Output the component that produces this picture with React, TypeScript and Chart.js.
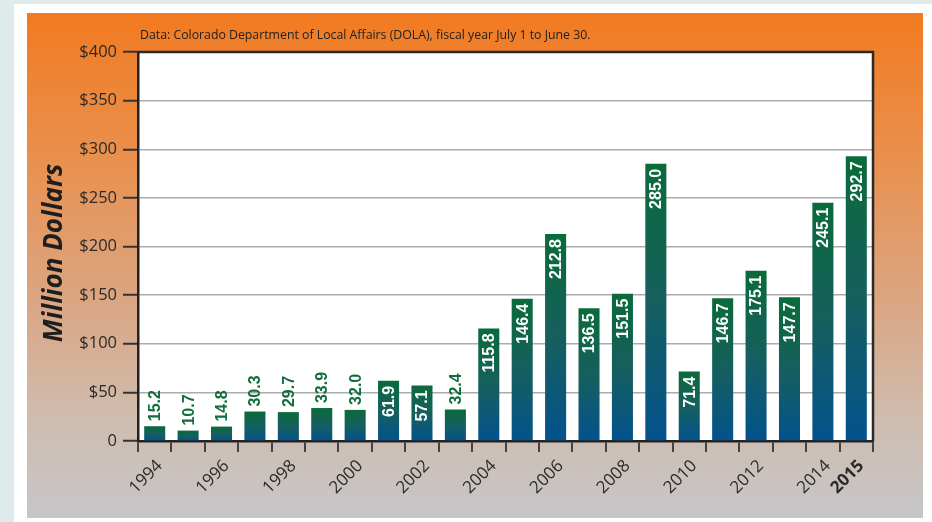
import React, { useEffect, useRef } from "react";
import { Chart, registerables } from "chart.js";

Chart.register(...registerables);

const years: string[] = [
  "1994", "1995", "1996", "1997", "1998", "1999", "2000", "2001", "2002", "2003", "2004",
  "2005", "2006", "2007", "2008", "2009", "2010", "2011", "2012", "2013", "2014", "2015",
];
const values: number[] = [
  15.2, 10.7, 14.8, 30.3, 29.7, 33.9, 32.0, 61.9, 57.1, 32.4, 115.8,
  146.4, 212.8, 136.5, 151.5, 285.0, 71.4, 146.7, 175.1, 147.7, 245.1, 292.7,
];
const yTicks: number[] = [0, 50, 100, 150, 200, 250, 300, 350, 400];
const subtitle = "Data: Colorado Department of Local Affairs (DOLA), fiscal year July 1 to June 30.";
const yTitle = "Million Dollars";

const FONT = "'Open Sans', 'DejaVu Sans', sans-serif";
const LABEL_FONT = "'Liberation Sans', Arial, sans-serif";

const overlayPlugin = {
  id: "overlay",
  beforeDraw(chart: any) {
    const { ctx, chartArea } = chart;
    ctx.save();
    ctx.fillStyle = "#ffffff";
    ctx.fillRect(chartArea.left, chartArea.top, chartArea.right - chartArea.left, chartArea.bottom - chartArea.top);
    ctx.restore();
  },
  afterDatasetsDraw(chart: any) {
    const { ctx } = chart;
    const meta = chart.getDatasetMeta(0);
    ctx.save();
    ctx.font = `bold 16px ${LABEL_FONT}`;
    ctx.textBaseline = "middle";
    meta.data.forEach((bar: any, i: number) => {
      const v = values[i];
      const txt = v.toFixed(1);
      ctx.save();
      if (v >= 50) {
        ctx.translate(bar.x, bar.y + 5);
        ctx.rotate(-Math.PI / 2);
        ctx.textAlign = "right";
        ctx.fillStyle = "#ffffff";
      } else {
        ctx.translate(bar.x, bar.y - 5);
        ctx.rotate(-Math.PI / 2);
        ctx.textAlign = "left";
        ctx.fillStyle = "#0f6e3b";
      }
      ctx.fillText(txt, 0, 1);
      ctx.restore();
    });
    ctx.restore();
  },
  afterDraw(chart: any) {
    const { ctx, chartArea } = chart;
    ctx.save();
    ctx.strokeStyle = "#2a2a2a";
    ctx.lineWidth = 2.5;
    ctx.beginPath();
    ctx.moveTo(chartArea.left, chartArea.top);
    ctx.lineTo(chartArea.right, chartArea.top);
    ctx.lineTo(chartArea.right, chartArea.bottom);
    ctx.stroke();
    ctx.fillStyle = "#222222";
    ctx.font = `12.3px ${FONT}`;
    ctx.textAlign = "left";
    ctx.textBaseline = "middle";
    ctx.fillText(subtitle, 113, 22);
    ctx.translate(28, 240);
    ctx.rotate(-Math.PI / 2);
    ctx.font = `italic bold 26px ${FONT}`;
    ctx.textAlign = "center";
    ctx.fillStyle = "#1e1e1e";
    ctx.fillText(yTitle, 0, 0);
    ctx.restore();
  },
};

export default function App() {
  const canvasRef = useRef<HTMLCanvasElement | null>(null);

  useEffect(() => {
    if (!canvasRef.current) return;
    const chart = new Chart(canvasRef.current, {
      type: "bar",
      data: {
        labels: years,
        datasets: [
          {
            data: values,
            backgroundColor: (c: any) => {
              const chartObj = c.chart;
              const ys = chartObj.scales && chartObj.scales.y;
              if (!ys || typeof c.raw !== "number") return "#0a5a6a";
              const top = ys.getPixelForValue(c.raw);
              const bottom = ys.getPixelForValue(0);
              if (!isFinite(top) || !isFinite(bottom) || top === bottom) return "#0a5a6a";
              const g = chartObj.ctx.createLinearGradient(0, top, 0, bottom);
              g.addColorStop(0, "#0a6b3a");
              g.addColorStop(0.5, "#165f5e");
              g.addColorStop(1, "#03528d");
              return g;
            },
            borderWidth: 0,
            barPercentage: 0.63,
            categoryPercentage: 1,
          },
        ],
      },
      options: {
        responsive: false,
        animation: false,
        events: [],
        layout: { padding: { left: 0, top: 39, right: 50, bottom: 0 } },
        plugins: { legend: { display: false }, tooltip: { enabled: false }, title: { display: false } },
        scales: {
          x: {
            afterFit: (s: any) => {
              s.height = 77;
            },
            grid: {
              offset: true,
              drawOnChartArea: false,
              tickLength: 11,
              color: "#444444",
              lineWidth: 2,
            },
            border: { color: "#222222", width: 2.5 },
            ticks: {
              autoSkip: false,
              maxRotation: 45,
              minRotation: 45,
              padding: 4,
              labelOffset: 5,
              color: "#2a2a2a",
              font: (c: any) => ({ family: FONT, size: 17, weight: c.index === years.length - 1 ? "bold" : "normal" }),
              callback: (_v: any, i: number) => {
                const y = parseInt(years[i], 10);
                return y % 2 === 0 || i === years.length - 1 ? years[i] : "";
              },
            },
          },
          y: {
            min: 0,
            max: 400,
            afterFit: (s: any) => {
              s.width = 111;
            },
            afterBuildTicks: (s: any) => {
              s.ticks = yTicks.map((v) => ({ value: v }));
            },
            grid: {
              color: "#ababab",
              lineWidth: 1.5,
              tickLength: 15,
              tickColor: "#333333",
              tickWidth: 2,
            },
            border: { color: "#222222", width: 2.5 },
            ticks: {
              padding: 6,
              color: "#2a2a2a",
              font: { family: FONT, size: 16.5 },
              callback: (v: any) => (Number(v) === 0 ? "0" : "$" + v),
            },
          },
        },
      },
      plugins: [overlayPlugin],
    });
    return () => chart.destroy();
  }, []);

  return (
    <div style={{ position: "fixed", left: 0, top: 0, width: 932, height: 522, background: "#ffffff", overflow: "hidden" }}>
      <div style={{ position: "absolute", left: 0, top: 0, width: 932, height: 4, background: "#dfeaeb" }} />
      <div style={{ position: "absolute", left: 0, top: 0, width: 14, height: 522, background: "#dfeaeb" }} />
      <div
        style={{
          position: "absolute",
          left: 27,
          top: 13,
          width: 896,
          height: 505,
          background: "linear-gradient(to bottom, #f27a20 0%, #e89150 30%, #d9a888 60%, #cfbcae 80%, #c6c6c8 100%)",
        }}
      >
        <canvas ref={canvasRef} width={896} height={505} style={{ display: "block" }} />
      </div>
    </div>
  );
}
